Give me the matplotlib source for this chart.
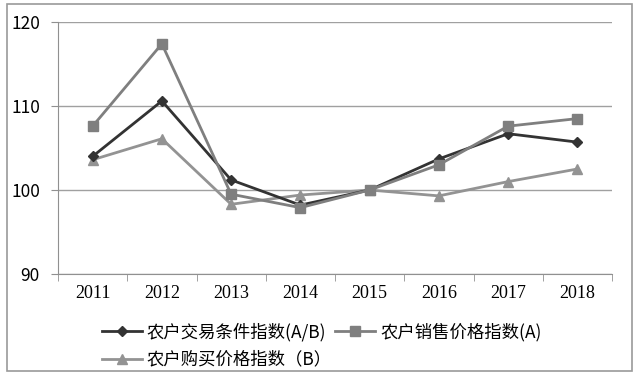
import matplotlib

matplotlib.use("Agg")

import matplotlib.pyplot as plt
from matplotlib.patches import Rectangle

plt.rcParams["font.family"] = ["Noto Sans CJK SC", "DejaVu Sans"]

years = ["2011", "2012", "2013", "2014", "2015", "2016", "2017", "2018"]
terms_of_trade = [104.0, 110.6, 101.2, 98.2, 100.0, 103.7, 106.7, 105.7]
sales_price = [107.6, 117.4, 99.5, 97.9, 100.0, 103.0, 107.6, 108.5]
purchase_price = [103.6, 106.1, 98.3, 99.4, 100.0, 99.3, 101.0, 102.5]

label_ab = "农户交易条件指数(A/B)"
label_a = "农户销售价格指数(A)"
label_b = "农户购买价格指数（B）"

fig = plt.figure(figsize=(6.39, 3.78), dpi=100)
ax = fig.add_axes([58 / 639, 1 - 274 / 378, 554 / 639, 252 / 378])

x = list(range(len(years)))
h_ab, = ax.plot(x, terms_of_trade, color="#333333", lw=2, marker="D", ms=5, label=label_ab, zorder=3)
h_a, = ax.plot(x, sales_price, color="#7f7f7f", lw=2, marker="s", ms=7, label=label_a, zorder=4)
h_b, = ax.plot(x, purchase_price, color="#939393", lw=2, marker="^", ms=7, label=label_b, zorder=2)

ax.set_xlim(-0.5, len(years) - 0.5)
ax.set_ylim(90, 120)
ax.set_yticks([90, 100, 110, 120])
ax.grid(axis="y", color="#a0a0a0", lw=1)
ax.set_axisbelow(True)

ax.set_xticks(x)
ax.set_xticklabels(years, family="Liberation Serif", fontsize=13)
ax.set_xticks([i - 0.5 for i in range(len(years) + 1)], minor=True)
ax.tick_params(axis="x", which="major", length=0, pad=8)
ax.tick_params(axis="x", which="minor", length=5, color="#909090", direction="out")
ax.tick_params(axis="y", length=5, color="#909090", labelsize=12.5, pad=8)

for side in ("top", "right"):
    ax.spines[side].set_visible(False)
for side in ("left", "bottom"):
    ax.spines[side].set_color("#909090")

fig.legend(
    [h_ab, h_b, h_a],
    [label_ab, label_b, label_a],
    ncol=2,
    loc="upper left",
    bbox_to_anchor=(86 / 639, 1 - 307 / 378),
    frameon=False,
    fontsize=12.5,
    handlelength=2.3,
    labelspacing=0.55,
    columnspacing=0.2,
    handletextpad=0.3,
)

fig.patches.append(
    Rectangle((7 / 639, 1 - 371 / 378), 625 / 639, 367 / 378,
              transform=fig.transFigure, fill=False, edgecolor="#9a9a9a", lw=1.2)
)

fig.savefig("out.png", dpi=100)
